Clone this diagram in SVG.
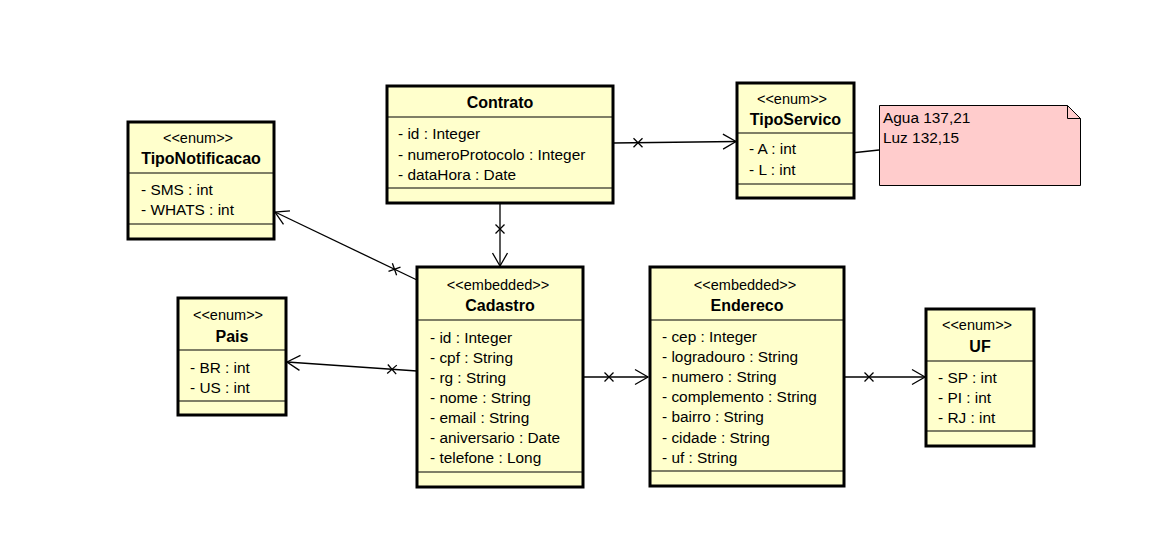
<svg xmlns="http://www.w3.org/2000/svg" xmlns:xlink="http://www.w3.org/1999/xlink" width="1151" height="538" viewBox="0 0 1151 538">
<style>
.box{fill:#FFFFCC;stroke:#000;stroke-width:3}
.sep{stroke:#000;stroke-width:1.2}
.st{font-family:"Liberation Sans",Arial,sans-serif;font-size:14.5px;fill:#000;text-anchor:middle}
.ti{font-family:"Liberation Sans",Arial,sans-serif;font-size:16px;font-weight:bold;fill:#000;text-anchor:middle}
.at{font-family:"Liberation Sans",Arial,sans-serif;font-size:15.4px;fill:#000}
.ln{stroke:#000;stroke-width:1.3;fill:none}
.note{fill:#FFCCCC;stroke:#000;stroke-width:1}
</style>
<defs>
<marker id="arr" markerUnits="userSpaceOnUse" viewBox="-15 -10 17 20" markerWidth="17" markerHeight="20" refX="0" refY="0" orient="auto">
<path d="M-13,-7.5 L0,0 L-13,7.5" fill="none" stroke="#000" stroke-width="1.3"/>
</marker>
<path id="xm" d="M-4.5,-4.5 L4.5,4.5 M-4.5,4.5 L4.5,-4.5" fill="none" stroke="#000" stroke-width="1.3"/>
</defs>
<rect width="1151" height="538" fill="#fff"/>

<g id="connectors">
<line class="ln" x1="613" y1="143" x2="736" y2="141.5" marker-end="url(#arr)"/>
<use xlink:href="#xm" transform="translate(638,142.7)"/>
<line class="ln" x1="500" y1="203" x2="500" y2="266" marker-end="url(#arr)"/>
<use xlink:href="#xm" transform="translate(500,229) rotate(90)"/>
<line class="ln" x1="417" y1="280" x2="275" y2="212" marker-end="url(#arr)"/>
<use xlink:href="#xm" transform="translate(394.5,269.2) rotate(205.6)"/>
<line class="ln" x1="417" y1="371" x2="287" y2="362" marker-end="url(#arr)"/>
<use xlink:href="#xm" transform="translate(392,369.3) rotate(184)"/>
<line class="ln" x1="584" y1="377" x2="648" y2="377" marker-end="url(#arr)"/>
<use xlink:href="#xm" transform="translate(609,377)"/>
<line class="ln" x1="844" y1="377" x2="925" y2="377" marker-end="url(#arr)"/>
<use xlink:href="#xm" transform="translate(869,377)"/>
<line class="ln" x1="851" y1="153" x2="879" y2="150"/>
</g>

<g id="Contrato">
<rect class="box" x="387" y="86" width="226" height="117"/>
<line class="sep" x1="387" y1="117" x2="613" y2="117"/>
<line class="sep" x1="387" y1="188" x2="613" y2="188"/>
<text class="ti" x="500" y="108">Contrato</text>
<text class="at" x="398" y="139">- id : Integer</text>
<text class="at" x="398" y="160">- numeroProtocolo : Integer</text>
<text class="at" x="398" y="180">- dataHora : Date</text>
</g>

<g id="TipoServico">
<rect class="box" x="737" y="83" width="117" height="115"/>
<line class="sep" x1="737" y1="133" x2="854" y2="133"/>
<line class="sep" x1="737" y1="184" x2="854" y2="184"/>
<text class="st" x="792" y="104">&lt;&lt;enum&gt;&gt;</text>
<text class="ti" x="795.5" y="125">TipoServico</text>
<text class="at" x="749" y="154">- A : int</text>
<text class="at" x="749" y="175">- L : int</text>
</g>

<g id="Nota">
<path class="note" d="M879.5,105.5 H1067.5 L1080.5,118.5 V185.5 H879.5 Z"/>
<path d="M1067.5,105.5 V118.5 H1080.5" fill="none" stroke="#000" stroke-width="1"/>
<text class="at" x="883" y="123">Agua 137,21</text>
<text class="at" x="883" y="143">Luz 132,15</text>
</g>

<g id="TipoNotificacao">
<rect class="box" x="128" y="122" width="146" height="117"/>
<line class="sep" x1="128" y1="173" x2="274" y2="173"/>
<line class="sep" x1="128" y1="224" x2="274" y2="224"/>
<text class="st" x="198" y="143">&lt;&lt;enum&gt;&gt;</text>
<text class="ti" x="201" y="164">TipoNotificacao</text>
<text class="at" x="141" y="195">- SMS : int</text>
<text class="at" x="141" y="215">- WHATS : int</text>
</g>

<g id="Pais">
<rect class="box" x="178" y="298" width="108" height="117"/>
<line class="sep" x1="178" y1="350" x2="286" y2="350"/>
<line class="sep" x1="178" y1="401" x2="286" y2="401"/>
<text class="st" x="228" y="320">&lt;&lt;enum&gt;&gt;</text>
<text class="ti" x="232" y="342">Pais</text>
<text class="at" x="190" y="373">- BR : int</text>
<text class="at" x="190" y="393">- US : int</text>
</g>

<g id="Cadastro">
<rect class="box" x="417" y="267" width="166" height="220"/>
<line class="sep" x1="417" y1="320" x2="583" y2="320"/>
<line class="sep" x1="417" y1="472" x2="583" y2="472"/>
<text class="st" x="498" y="290">&lt;&lt;embedded&gt;&gt;</text>
<text class="ti" x="500" y="311">Cadastro</text>
<text class="at" x="430" y="343">- id : Integer</text>
<text class="at" x="430" y="363">- cpf : String</text>
<text class="at" x="430" y="383">- rg : String</text>
<text class="at" x="430" y="403">- nome : String</text>
<text class="at" x="430" y="423">- email : String</text>
<text class="at" x="430" y="443">- aniversario : Date</text>
<text class="at" x="430" y="463">- telefone : Long</text>
</g>

<g id="Endereco">
<rect class="box" x="650" y="267" width="194" height="219"/>
<line class="sep" x1="650" y1="320" x2="844" y2="320"/>
<line class="sep" x1="650" y1="471" x2="844" y2="471"/>
<text class="st" x="745" y="290">&lt;&lt;embedded&gt;&gt;</text>
<text class="ti" x="747" y="311">Endereco</text>
<text class="at" x="662" y="342">- cep : Integer</text>
<text class="at" x="662" y="362">- logradouro : String</text>
<text class="at" x="662" y="382">- numero : String</text>
<text class="at" x="662" y="402">- complemento : String</text>
<text class="at" x="662" y="422">- bairro : String</text>
<text class="at" x="662" y="443">- cidade : String</text>
<text class="at" x="662" y="463">- uf : String</text>
</g>

<g id="UF">
<rect class="box" x="926" y="309" width="108" height="137"/>
<line class="sep" x1="926" y1="361" x2="1034" y2="361"/>
<line class="sep" x1="926" y1="431" x2="1034" y2="431"/>
<text class="st" x="977" y="330">&lt;&lt;enum&gt;&gt;</text>
<text class="ti" x="980" y="352">UF</text>
<text class="at" x="938" y="383">- SP : int</text>
<text class="at" x="938" y="403">- PI : int</text>
<text class="at" x="938" y="423">- RJ : int</text>
</g>
</svg>
